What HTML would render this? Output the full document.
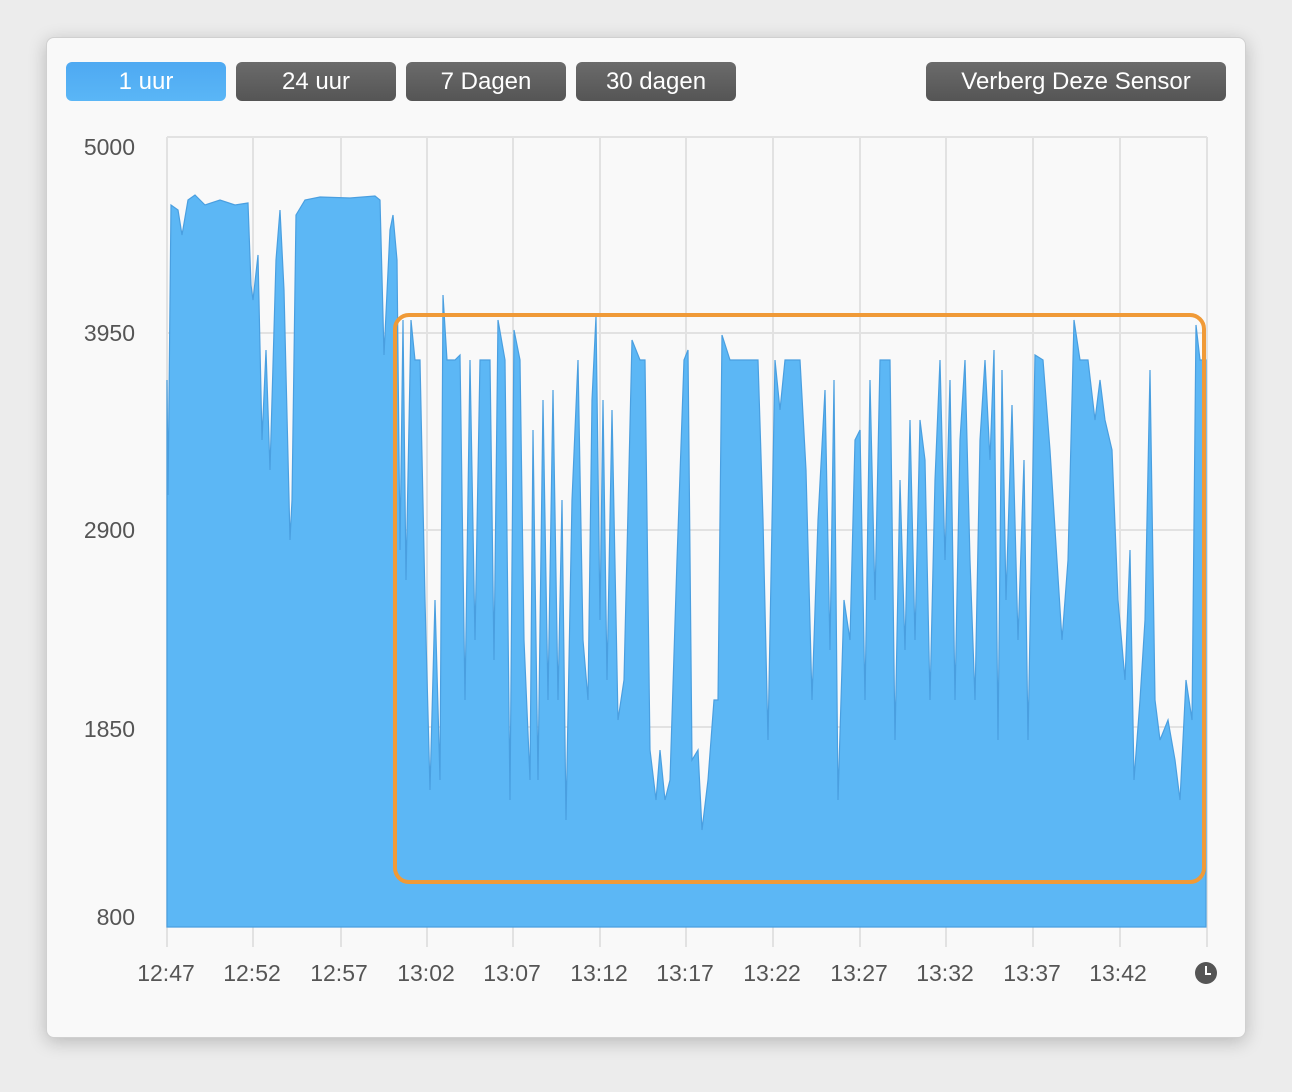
<!DOCTYPE html>
<html><head><style>
body{margin:0;width:1292px;height:1092px;background:#ececec;font-family:"Liberation Sans",sans-serif;position:relative;overflow:hidden}
.panel{position:absolute;left:46px;top:37px;width:1200px;height:1001px;background:#f9f9f9;border-radius:8px;box-shadow:0 4px 18px rgba(0,0,0,.22);border:1px solid #d0d0d0;box-sizing:border-box}
.btn{position:absolute;top:62px;height:39px;border-radius:6px;color:#fff;font-size:24px;text-align:center;line-height:39px;background:linear-gradient(#6b6b6b,#555)}
.blue{background:linear-gradient(#4ea9f2,#5ab6f6)}
.yl{position:absolute;left:60px;width:75px;text-align:right;font-size:23px;color:#555}
.xl{position:absolute;top:960px;font-size:23px;color:#555;width:90px;text-align:center}
</style></head><body>
<div class="panel"></div>
<div class="btn blue" style="left:66px;width:160px">1 uur</div>
<div class="btn" style="left:236px;width:160px">24 uur</div>
<div class="btn" style="left:406px;width:160px">7 Dagen</div>
<div class="btn" style="left:576px;width:160px">30 dagen</div>
<div class="btn" style="left:926px;width:300px">Verberg Deze Sensor</div>
<div class="yl" style="top:134px">5000</div>
<div class="yl" style="top:320px">3950</div>
<div class="yl" style="top:517px">2900</div>
<div class="yl" style="top:716px">1850</div>
<div class="yl" style="top:904px">800</div>
<svg style="position:absolute;left:0;top:0" width="1292" height="1092">
<g stroke="#e2e2e2" stroke-width="2">
<line x1="167" y1="137" x2="1207" y2="137"/><line x1="167" y1="333" x2="1207" y2="333"/><line x1="167" y1="530" x2="1207" y2="530"/><line x1="167" y1="727" x2="1207" y2="727"/>
<line x1="167" y1="137" x2="167" y2="947"/><line x1="253" y1="137" x2="253" y2="947"/><line x1="341" y1="137" x2="341" y2="947"/><line x1="427" y1="137" x2="427" y2="947"/><line x1="513" y1="137" x2="513" y2="947"/><line x1="600" y1="137" x2="600" y2="947"/><line x1="686" y1="137" x2="686" y2="947"/><line x1="773" y1="137" x2="773" y2="947"/><line x1="860" y1="137" x2="860" y2="947"/><line x1="946" y1="137" x2="946" y2="947"/><line x1="1033" y1="137" x2="1033" y2="947"/><line x1="1120" y1="137" x2="1120" y2="947"/><line x1="1207" y1="137" x2="1207" y2="947"/>
</g>
<polygon fill="#5cb7f5" stroke="#4a9fe0" stroke-width="1.2" points="167,927 167,380 168,495 171,205 178,210 182,235 188,200 195,195 205,205 220,200 235,205 248,203 251,285 253,300 258,255 262,440 266,350 270,470 276,260 280,210 284,290 290,540 292,500 296,215 305,200 320,197 350,198 375,196 380,200 384,355 390,230 393,215 397,260 400,550 403,320 406,580 411,320 415,360 420,360 425,600 430,790 435,600 440,780 443,295 447,360 455,360 460,355 465,700 470,360 475,640 480,360 490,360 494,660 498,320 505,360 510,800 514,330 520,360 524,640 530,780 533,430 538,780 543,400 548,700 553,390 558,700 562,500 566,820 572,500 578,360 583,640 588,700 592,400 596,316 600,620 603,400 607,680 612,410 618,720 624,680 632,340 640,360 645,360 650,750 656,800 660,750 665,800 670,780 677,560 684,360 688,350 692,760 698,750 702,830 708,780 714,700 718,700 722,335 730,360 758,360 763,520 768,740 775,360 780,410 785,360 800,360 806,470 812,700 818,520 825,390 830,650 834,380 838,800 844,600 850,640 855,440 860,430 865,700 870,380 875,600 880,360 890,360 895,740 900,480 905,650 910,420 915,640 920,420 925,460 930,700 935,480 940,360 945,560 950,380 955,700 960,440 965,360 970,560 975,700 980,440 985,360 990,460 994,350 998,740 1002,370 1006,600 1012,405 1018,640 1024,460 1028,740 1035,355 1043,360 1050,450 1062,640 1068,560 1074,320 1080,360 1088,360 1095,420 1100,380 1105,420 1112,450 1118,600 1125,680 1130,550 1134,780 1140,700 1145,620 1150,370 1155,700 1160,740 1168,720 1175,760 1180,800 1186,680 1192,720 1196,325 1200,360 1206,360 1206,927"/>
<rect x="395" y="315" width="809" height="567" rx="14" fill="none" stroke="#f09a37" stroke-width="4"/>
<circle cx="1206" cy="973" r="11" fill="#555"/>
<path d="M1206 966 V974 H1211" stroke="#fff" stroke-width="2" fill="none"/>
</svg>
<div class="xl" style="left:121px">12:47</div>
<div class="xl" style="left:207px">12:52</div>
<div class="xl" style="left:294px">12:57</div>
<div class="xl" style="left:381px">13:02</div>
<div class="xl" style="left:467px">13:07</div>
<div class="xl" style="left:554px">13:12</div>
<div class="xl" style="left:640px">13:17</div>
<div class="xl" style="left:727px">13:22</div>
<div class="xl" style="left:814px">13:27</div>
<div class="xl" style="left:900px">13:32</div>
<div class="xl" style="left:987px">13:37</div>
<div class="xl" style="left:1073px">13:42</div>
</body></html>
